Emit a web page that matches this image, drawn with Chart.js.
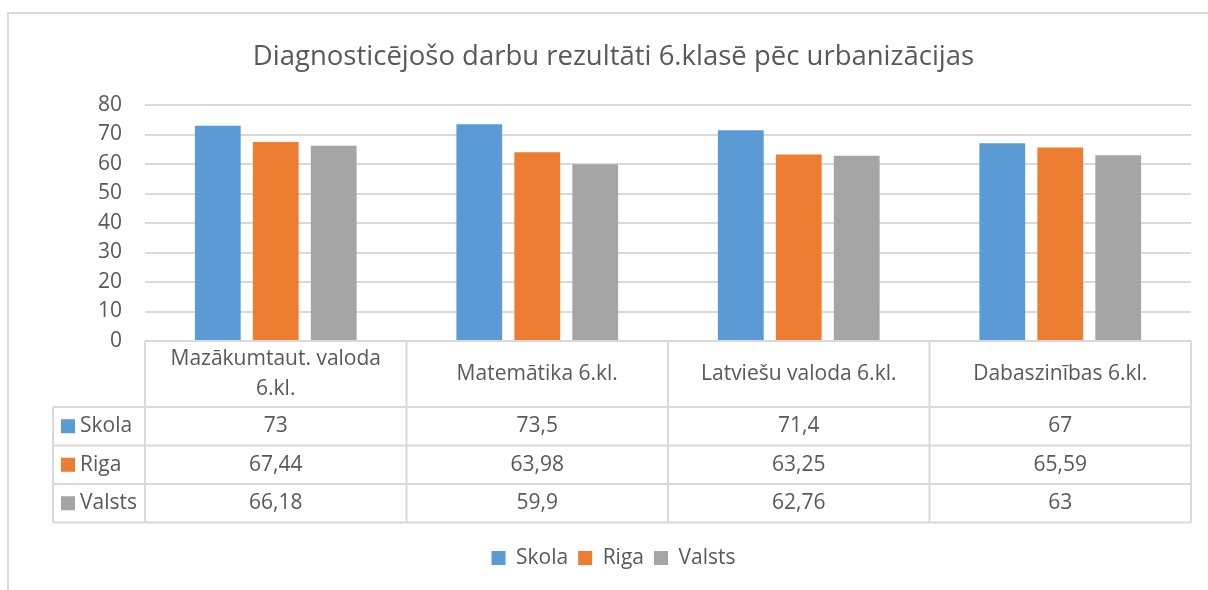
<!DOCTYPE html>
<html>
<head>
<meta charset="utf-8">
<script src="https://cdn.jsdelivr.net/npm/chart.js@4/dist/chart.umd.min.js"></script>
<style>
  body { margin: 0; background: #fff; }
  #wrap { position: relative; width: 1208px; height: 590px; overflow: hidden; }
  #frame { position: absolute; left: 7px; top: 12px; width: 1300px; height: 700px;
           border-left: 2px solid #d9d9d9; border-top: 2px solid #d9d9d9; }
  canvas { position: absolute; left: 0; top: 0; }
</style>
</head>
<body>
<div id="wrap">
  <div id="frame"></div>
  <canvas id="grafiks" width="1208" height="590"></canvas>
</div>
<script>
// Dati
const titulis = "Diagnosticējošo darbu rezultāti 6.klasē pēc urbanizācijas";
const kategorijas = ["Mazākumtaut. valoda 6.kl.", "Matemātika 6.kl.", "Latviešu valoda 6.kl.", "Dabaszinības 6.kl."];
const skola = [73, 73.5, 71.4, 67];
const riga = [67.44, 63.98, 63.25, 65.59];
const valsts = [66.18, 59.9, 62.76, 63];
const asuSoli = [0, 10, 20, 30, 40, 50, 60, 70, 80];

const teksts = "#595959";
const linijas = "#d9d9d9";
const fonts = "'Open Sans', sans-serif";

const komats = v => String(v).replace(".", ",");

// Datu tabula zem grafika
const tabulasPlugins = {
  id: "datuTabula",
  afterDraw(chart) {
    const c = chart.ctx;
    const x = chart.scales.x;
    const a = chart.chartArea;
    const n = kategorijas.length;
    const kol = (a.right - a.left) / n;
    const galvaH = 66;
    const rindaH = 38.5;
    const kreisais = 53;
    const rindu = chart.data.datasets.length;
    const y0 = a.bottom;
    const y1 = y0 + galvaH;
    const yEnd = y1 + rindu * rindaH;

    c.save();
    c.strokeStyle = linijas;
    c.lineWidth = 2;
    c.beginPath();
    // horizontālās
    c.moveTo(a.left, y0); c.lineTo(a.right, y0);
    for (let r = 0; r <= rindu; r++) {
      c.moveTo(kreisais, y1 + r * rindaH); c.lineTo(a.right, y1 + r * rindaH);
    }
    // vertikālās
    c.moveTo(kreisais, y1); c.lineTo(kreisais, yEnd);
    for (let i = 0; i <= n; i++) {
      const xx = a.left + i * kol;
      c.moveTo(xx, y0); c.lineTo(xx, yEnd);
    }
    c.stroke();

    c.fillStyle = teksts;
    c.font = "21px " + fonts;
    c.textAlign = "center";
    c.textBaseline = "middle";

    // galvene ar pārnesumu
    kategorijas.forEach((k, i) => {
      const cx = x.getPixelForValue(i);
      const vardi = k.split(" ");
      const rindas = [];
      let tek = "";
      vardi.forEach(v => {
        const test = tek ? tek + " " + v : v;
        if (c.measureText(test).width > 235 && tek) { rindas.push(tek); tek = v; }
        else tek = test;
      });
      rindas.push(tek);
      const lh = 30;
      const startY = y0 + galvaH / 2 - (rindas.length - 1) * lh / 2;
      rindas.forEach((r, j) => c.fillText(r, cx, startY + j * lh));
    });

    // vērtības
    chart.data.datasets.forEach((ds, r) => {
      const cy = y1 + r * rindaH + rindaH / 2;
      ds.data.forEach((v, i) => {
        c.fillText(komats(v), x.getPixelForValue(i), cy);
      });
      c.fillStyle = ds.backgroundColor;
      c.fillRect(kreisais + 8, cy - 7, 14, 14);
      c.fillStyle = teksts;
      c.textAlign = "left";
      c.fillText(ds.label, kreisais + 27, cy);
      c.textAlign = "center";
    });
    c.restore();
  }
};

new Chart(document.getElementById("grafiks"), {
  type: "bar",
  data: {
    labels: kategorijas,
    datasets: [
      { label: "Skola", data: skola, backgroundColor: "#5B9BD5" },
      { label: "Riga", data: riga, backgroundColor: "#ED7D31" },
      { label: "Valsts", data: valsts, backgroundColor: "#A5A5A5" }
    ]
  },
  options: {
    responsive: false,
    animation: false,
    events: [],
    layout: { padding: { left: 36, right: 17, top: 0, bottom: 11.5 } },
    datasets: { bar: { categoryPercentage: 0.665, barPercentage: 0.79 } },
    plugins: {
      title: {
        display: true,
        text: titulis,
        color: teksts,
        font: { family: fonts, size: 27.5, weight: "normal" },
        padding: { top: 40.5, bottom: 31.5 }
      },
      legend: {
        position: "bottom",
        labels: {
          color: teksts,
          font: { family: fonts, size: 21 },
          boxWidth: 14,
          boxHeight: 14,
          padding: 10
        }
      },
      tooltip: { enabled: false }
    },
    scales: {
      x: {
        grid: { display: false },
        border: { display: false },
        ticks: { display: false },
        afterFit(s) { s.height = 196.5; }
      },
      y: {
        min: 0,
        max: 80,
        afterBuildTicks(s) { s.ticks = asuSoli.map(v => ({ value: v })); },
        grid: { color: linijas, lineWidth: 2, drawTicks: false },
        border: { display: false },
        ticks: { color: teksts, font: { family: fonts, size: 21 }, padding: 23 },
        afterFit(s) { s.width = 109; }
      }
    }
  },
  plugins: [tabulasPlugins]
});
</script>
</body>
</html>
